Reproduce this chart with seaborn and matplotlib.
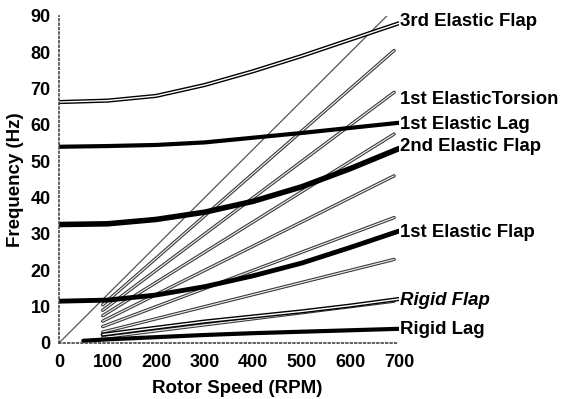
import matplotlib
matplotlib.use("Agg")
import matplotlib.pyplot as plt
import seaborn as sns
import pandas as pd

# ---- data ----
mode_rpm = [0, 100, 200, 300, 400, 500, 600, 700]
flap3 = [66.3, 66.7, 68.0, 71.0, 74.8, 79.0, 83.5, 88.0]
lag1 = [54.0, 54.2, 54.5, 55.2, 56.5, 57.8, 59.2, 60.6]
flap2 = [32.6, 32.8, 34.0, 36.0, 39.0, 43.0, 48.0, 53.5]
flap1 = [11.5, 11.8, 13.2, 15.5, 18.5, 22.0, 26.3, 30.8]
rigid_flap_rpm = [90, 200, 300, 400, 500, 600, 700]
rigid_flap = [2.3, 4.2, 5.9, 7.3, 8.7, 10.3, 12.1]
rigid_lag_rpm = [50, 100, 200, 300, 400, 500, 600, 700]
rigid_lag = [0.6, 1.0, 1.6, 2.2, 2.7, 3.1, 3.5, 3.9]

# per-rev lines: start/end points (RPM, Hz)
per_rev_start_rpm = [90, 90, 90, 90, 90, 90, 90, 0]
per_rev_start_hz = [1.5, 3.0, 4.5, 6.0, 7.5, 9.0, 10.5, 0.0]
per_rev_end_rpm = [690, 690, 690, 690, 690, 690, 690, 690]
per_rev_end_hz = [11.5, 23.0, 34.5, 46.0, 57.5, 69.0, 80.5, 92.0]

label_texts = ["3rd Elastic Flap", "1st ElasticTorsion", "1st Elastic Lag",
               "2nd Elastic Flap", "1st Elastic Flap", "Rigid Flap", "Rigid Lag"]
label_y = [88.4, 66.9, 60.1, 54.0, 30.3, 11.8, 3.6]

x_ticks = [0, 100, 200, 300, 400, 500, 600, 700]
y_ticks = [0, 10, 20, 30, 40, 50, 60, 70, 80, 90]

sns.set_theme(style="white")
plt.rcParams['font.family'] = ['Liberation Sans', 'DejaVu Sans']
plt.rcParams['text.color'] = 'black'
plt.rcParams['axes.labelcolor'] = 'black'
plt.rcParams['xtick.color'] = 'black'
plt.rcParams['ytick.color'] = 'black'

fig = plt.figure(figsize=(5.64, 3.99), dpi=100)
ax = fig.add_axes([0.1046, 0.1404, 0.6028, 0.8196])

# per-rev lines (hollow grey)
for i in range(len(per_rev_end_hz)):
    d = pd.DataFrame({"rpm": [per_rev_start_rpm[i], per_rev_end_rpm[i]],
                      "hz": [per_rev_start_hz[i], per_rev_end_hz[i]]})
    if per_rev_start_rpm[i] == 0:
        sns.lineplot(data=d, x="rpm", y="hz", ax=ax, color="#555555", lw=0.9)
    else:
        sns.lineplot(data=d, x="rpm", y="hz", ax=ax, color="#333333", lw=2.4)
        sns.lineplot(data=d, x="rpm", y="hz", ax=ax, color="#e8e8e8", lw=0.9)

def hollow(x, y, lw_out, lw_in):
    d = pd.DataFrame({"rpm": x, "hz": y})
    sns.lineplot(data=d, x="rpm", y="hz", ax=ax, color="black", lw=lw_out)
    sns.lineplot(data=d, x="rpm", y="hz", ax=ax, color="white", lw=lw_in)

def solid(x, y, lw):
    d = pd.DataFrame({"rpm": x, "hz": y})
    sns.lineplot(data=d, x="rpm", y="hz", ax=ax, color="black", lw=lw)

hollow(mode_rpm, flap3, 3.0, 1.0)
solid(mode_rpm, lag1, 3.0)
solid(mode_rpm, flap2, 4.0)
solid(mode_rpm, flap1, 3.5)
hollow(rigid_flap_rpm, rigid_flap, 3.0, 1.0)
solid(rigid_lag_rpm, rigid_lag, 3.0)

for t, yv in zip(label_texts, label_y):
    ax.text(703, yv, t, fontsize=13.4, fontweight="bold", color="black",
            fontstyle="italic" if t == "Rigid Flap" else "normal",
            va="center", ha="left", clip_on=False)

ax.set_xlim(0, 700)
ax.set_ylim(0, 90)
ax.set_xticks(x_ticks)
ax.set_yticks(y_ticks)
ax.tick_params(axis="both", labelsize=13, length=3, width=1,
               color="#444444", labelcolor="black")
ax.tick_params(axis="x", direction="in", pad=8)
ax.tick_params(axis="y", direction="out", pad=3)
for lbl in ax.get_xticklabels() + ax.get_yticklabels():
    lbl.set_fontweight("bold")

ax.set_xlabel("Rotor Speed (RPM)", fontsize=13.5, fontweight="bold", color="black")
ax.set_ylabel("Frequency (Hz)", fontsize=13.5, fontweight="bold", color="black")
ax.xaxis.set_label_coords(0.525, -0.112)
ax.yaxis.set_label_coords(-0.102, 0.5)

for s in ["top", "right"]:
    ax.spines[s].set_visible(False)
for s in ["left", "bottom"]:
    ax.spines[s].set_linestyle(":")
    ax.spines[s].set_color("#444444")
    ax.spines[s].set_linewidth(1.2)

fig.savefig("out.png", dpi=100)
